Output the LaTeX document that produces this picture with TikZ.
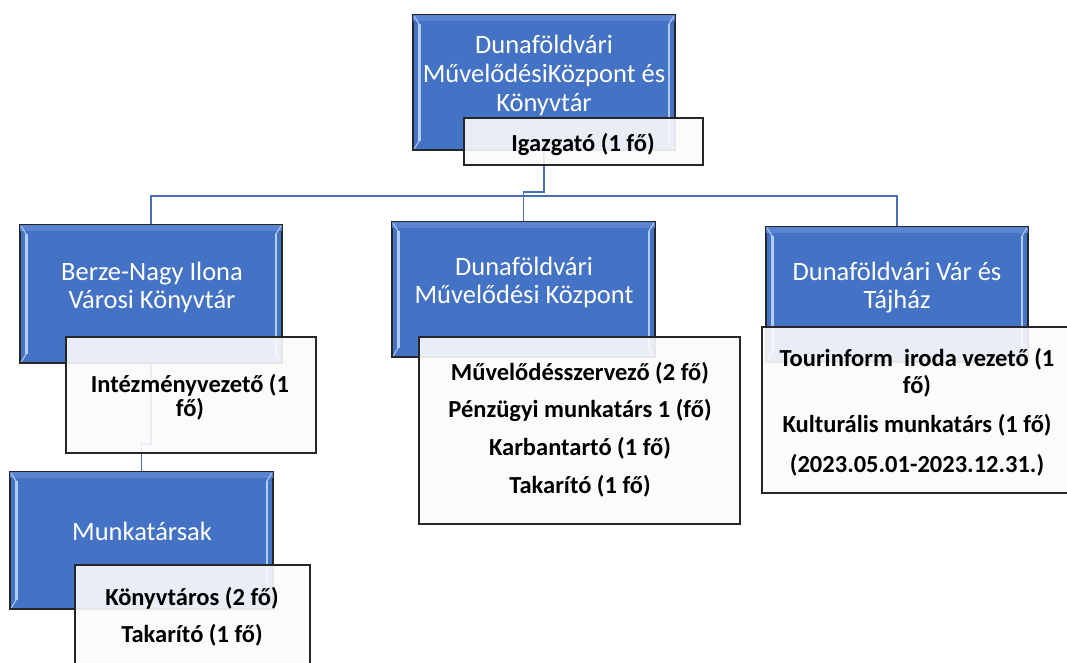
\documentclass[tikz,border=0pt]{standalone}
\usepackage{fontspec}
\setmainfont{Carlito}
\usetikzlibrary{calc,fit}
\definecolor{boxblue}{HTML}{4472C4}
\definecolor{bandblue}{HTML}{5A84CF}
\definecolor{hiblue}{HTML}{B4CCF2}
\definecolor{linkblue}{HTML}{4A6FB3}
\definecolor{edgedark}{HTML}{262626}
\definecolor{rolefill}{HTML}{FBFBFB}
\tikzset{
  unitbox/.style={draw=edgedark, line width=1.5pt, fill=boxblue, inner sep=0pt},
  rolebox/.style={draw=edgedark, line width=1.2pt, fill=rolefill, fill opacity=0.9, inner sep=0pt},
  link/.style={draw=linkblue, line width=1.8pt},
  bluetext/.style={text=white, font=\fontsize{26.5}{29}\selectfont, anchor=base, inner sep=0pt},
  roletext/.style={text=black, font=\fontsize{24.5}{28}\selectfont\bfseries, anchor=base, inner sep=0pt},
  hl/.style={draw=hiblue, line width=2.5pt},
  hlthin/.style={draw=hiblue, line width=1pt},
}
\begin{document}
\begin{tikzpicture}[x=1pt,y=-1pt]
\useasboundingbox (0,0) rectangle (1067,662);
% unit boxes
\node[unitbox, fit={(413,15) (675,150)}] (top) {};
\node[unitbox, fit={(20,225) (282,363)}] (lib) {};
\node[unitbox, fit={(392,222) (655,357)}] (mid) {};
\node[unitbox, fit={(766,227) (1028,362)}] (var) {};
\node[unitbox, fit={(10,472) (273,609)}] (mk) {};
% bevel highlights
\foreach \n in {top,lib,mid,var,mk}{
  \fill[bandblue] ([shift={(1,1)}]\n.north west) rectangle ([shift={(-1,7)}]\n.north east);
  \draw[hl] ([shift={(7,10)}]\n.north west) -- ([shift={(7,-10)}]\n.south west);
  \draw[hl] ([shift={(-7,10)}]\n.north east) -- ([shift={(-7,-10)}]\n.south east);
  \draw[hlthin] ([shift={(2,2)}]\n.north west) -- ([shift={(7,10)}]\n.north west);
  \draw[hlthin] ([shift={(2,-2)}]\n.south west) -- ([shift={(7,-10)}]\n.south west);
  \draw[hlthin] ([shift={(-2,2)}]\n.north east) -- ([shift={(-7,10)}]\n.north east);
  \draw[hlthin] ([shift={(-2,-2)}]\n.south east) -- ([shift={(-7,-10)}]\n.south east);
}
% connectors
\draw[link] (top.south) -- ++(0,41) -| (mid.north);
\draw[link] (lib.north) -- ++(0,-28) -| (var.north);
\draw[link] (lib.south) -- ++(0,80) -| (mk.north);
% role boxes
\node[rolebox, fit={(464,118) (703,165)}] (igaz) {};
\node[rolebox, fit={(66,337) (316,453)}] (intz) {};
\node[rolebox, fit={(75,565) (310,690)}] (kvt) {};
\node[rolebox, fit={(419,337) (740,524)}] (midw) {};
\node[rolebox, fit={(762,327) (1072,493)}] (varw) {};
% unit texts
\node[bluetext] (t1a) at (544,53) {Dunaföldvári};
\node[bluetext] (t1b) at (544,82) {MűvelődésiKözpont és};
\node[bluetext] (t1c) at (544,111) {Könyvtár};
\node[bluetext] (t2a) at (152,280) {Berze-Nagy Ilona};
\node[bluetext] (t2b) at (152,308) {Városi Könyvtár};
\node[bluetext] (t3a) at (524,275) {Dunaföldvári};
\node[bluetext] (t3b) at (524,303) {Művelődési Központ};
\node[bluetext] (t4a) at (897,280) {Dunaföldvári Vár és};
\node[bluetext] (t4b) at (897,308) {Tájház};
\node[bluetext] (t5a) at (142,540) {Munkatársak};
% role texts
\node[roletext] (r1) at (583,151) {Igazgató (1 fő)};
\node[roletext] (r2a) at (190,392) {Intézményvezető (1};
\node[roletext] (r2b) at (190,416) {fő)};
\node[roletext] (r3a) at (192,605) {Könyvtáros (2 fő)};
\node[roletext] (r3b) at (192,642) {Takarító (1 fő)};
\node[roletext] (r4a) at (580,380) {Művelődésszervező (2 fő)};
\node[roletext] (r4b) at (580,417) {Pénzügyi munkatárs 1 (fő)};
\node[roletext] (r4c) at (580,455) {Karbantartó (1 fő)};
\node[roletext] (r4d) at (580,493) {Takarító (1 fő)};
\node[roletext] (r5a) at (917,366) {Tourinform\ \ iroda vezető (1};
\node[roletext] (r5b) at (917,393) {fő)};
\node[roletext] (r5c) at (917,432) {Kulturális munkatárs (1 fő)};
\node[roletext] (r5d) at (917,472) {(2023.05.01-2023.12.31.)};
\end{tikzpicture}
\end{document}
